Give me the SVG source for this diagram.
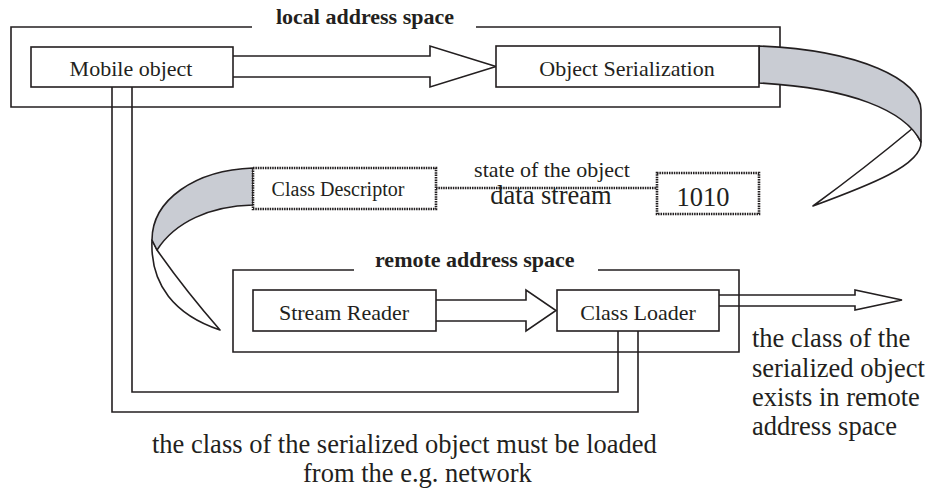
<svg xmlns="http://www.w3.org/2000/svg" width="930" height="489" viewBox="0 0 930 489">
<style>
.ln{fill:none;stroke:#231f20;stroke-width:1.6;stroke-linejoin:miter}
.box{fill:#fff;stroke:#231f20;stroke-width:1.6}
.dot{fill:#fff;stroke:#231f20;stroke-width:2.6;stroke-dasharray:1.5 0.9}
.dl{fill:none;stroke:#231f20;stroke-width:2.6;stroke-dasharray:1.5 0.9}
.ar{fill:#fff;stroke:#231f20;stroke-width:1.6;stroke-linejoin:miter}
.gray{fill:#c9ccd3;stroke:#231f20;stroke-width:1.6;stroke-linejoin:round}
.wt{fill:#fff;stroke:#231f20;stroke-width:1.6;stroke-linejoin:round}
text{font-family:"Liberation Serif","Times New Roman",serif;fill:#231f20}
.t22{font-size:22px}
.b22{font-size:22px;font-weight:bold}
.t20{font-size:20px}
.t26{font-size:26.5px}
.m{text-anchor:middle}
</style>
<rect width="930" height="489" fill="#fff"/>
<g id="local-frame">
<path class="ln" d="M252,27 H11 V107 H780 V27 H476"/>
<text class="b22 m" x="365" y="24">local address space</text>
</g>
<g id="remote-frame">
<path class="ln" d="M354,270 H233 V352 H739 V270 H598"/>
<text class="b22" x="375" y="267">remote address space</text>
</g>
<g id="connectors">
<path class="ar" d="M233,56 H430 V46 L496,66.5 L430,87 V77 H233"/>
<path class="ar" d="M436,300 H526 V290 L556,310.5 L526,331 V321 H436"/>
<path class="ln" d="M719,295 H855 V290 L902,300 L855,310 V306 H719"/>
<path class="ln" d="M132,87 V392 H618 V331"/>
<path class="ln" d="M112,87 V412 H638 V331"/>
<path class="dl" d="M436,188 H657"/>
<path class="wt" d="M921,142 C922,165 870,185 813,206 Q865,168 913,128 Z"/>
<path class="gray" d="M759,46 C860,50 921,80 921,110 L921,142 C905,110 850,88 759,83 Z"/>
<path class="wt" d="M152,240 C150,285 175,315 220,330 Q185,290 157,250 Z"/>
<path class="gray" d="M253,168 C195,170 152,200 152,240 L157,250 C175,222 210,206 253,205 Z"/>
</g>
<g id="mobile-object">
<rect class="box" x="31" y="47" width="202" height="40"/>
<text class="t22 m" x="131" y="76">Mobile object</text>
</g>
<g id="object-serialization">
<rect class="box" x="496" y="46" width="263" height="41"/>
<text class="t22 m" x="627" y="76">Object Serialization</text>
</g>
<g id="class-descriptor">
<rect class="dot" x="253" y="168" width="183" height="41"/>
<text class="t20 m" x="338" y="196">Class Descriptor</text>
</g>
<g id="state-label">
<text class="t22 m" x="552" y="177">state of the object</text>
<text class="t26 m" x="551" y="204">data stream</text>
</g>
<g id="bits">
<rect class="dot" x="657" y="173" width="102" height="41"/>
<text class="t26 m" x="703" y="206">1010</text>
</g>
<g id="stream-reader">
<rect class="box" x="253" y="290" width="183" height="41"/>
<text class="t22 m" x="344" y="320">Stream Reader</text>
</g>
<g id="class-loader">
<rect class="box" x="557" y="290" width="162" height="41"/>
<text class="t22 m" x="638" y="320">Class Loader</text>
</g>
<g id="exists-note">
<text class="t26" x="752" y="347">the class of the</text>
<text class="t26" x="752" y="377">serialized object</text>
<text class="t26" x="752" y="406">exists in remote</text>
<text class="t26" x="752" y="435">address space</text>
</g>
<g id="load-note">
<text class="t26" x="152" y="453">the class of the serialized object must be loaded</text>
<text class="t26" x="303" y="482">from the e.g. network</text>
</g>
</svg>
